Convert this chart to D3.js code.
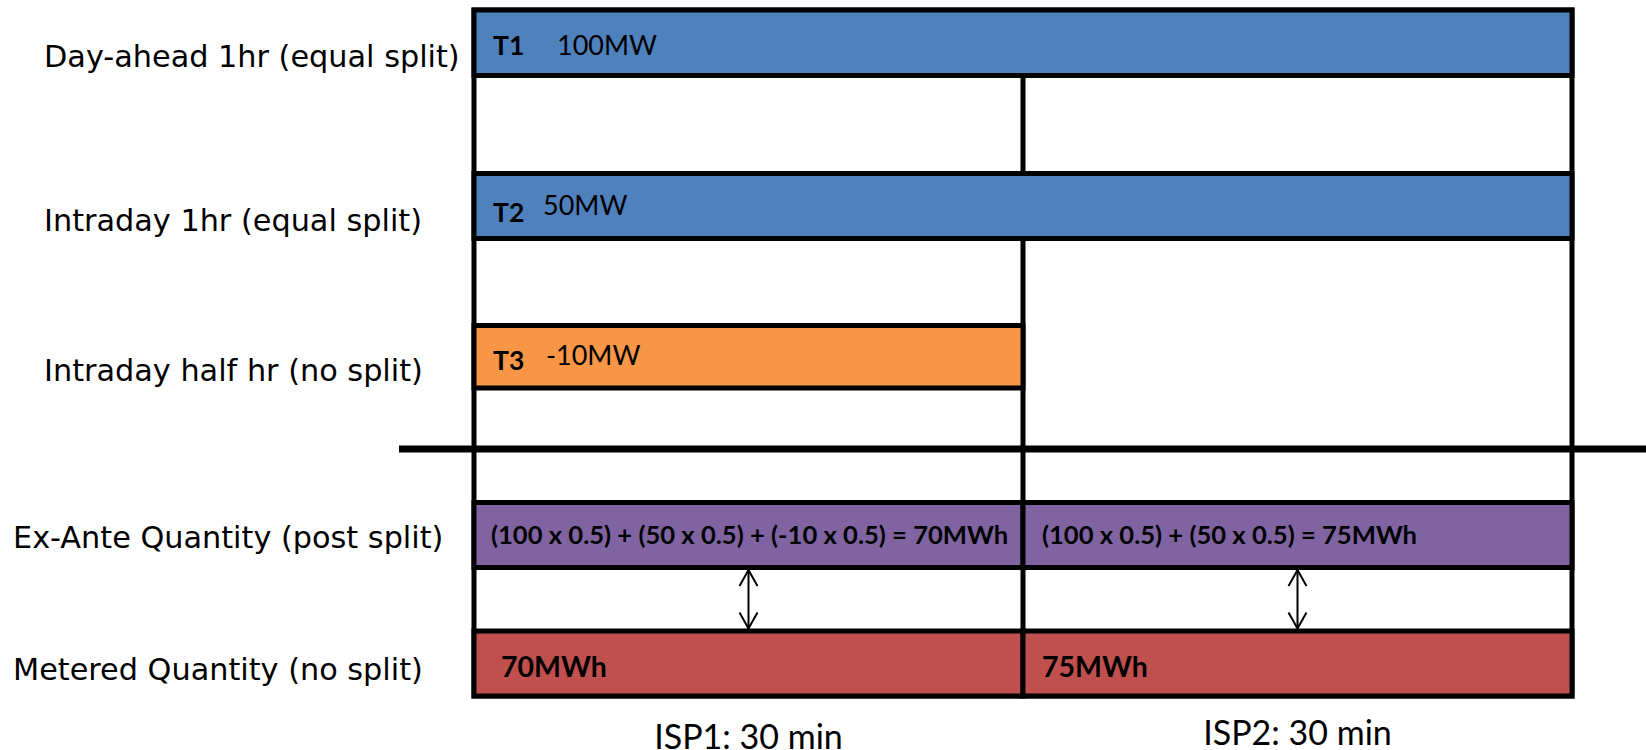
<!DOCTYPE html>
<html>
<head>
<meta charset="utf-8">
<script src="https://cdn.jsdelivr.net/npm/d3@7"></script>
<style>
  html, body { margin: 0; padding: 0; background: #fff; }
  svg { display: block; }
</style>
</head>
<body>
<svg id="chart" width="1646" height="750"></svg>
<script>
// ---------------- DATA ----------------
const rowKeys = ["dayAhead", "intraday1h", "intradayHalf", "exAnte", "metered"];
const rowLabels = [
  "Day-ahead 1hr (equal split)",
  "Intraday 1hr (equal split)",
  "Intraday half hr (no split)",
  "Ex-Ante Quantity (post split)",
  "Metered Quantity (no split)"
];
const ispLabels = ["ISP1: 30 min", "ISP2: 30 min"];
const ispDurationH = 0.5;

const tradeIds = ["T1", "T2", "T3"];
const tradeMW = [100, 50, -10];
const tradeStartIsp = [0, 0, 0];
const tradeEndIsp = [2, 2, 1];   // exclusive
const tradeRows = ["dayAhead", "intraday1h", "intradayHalf"];

const meteredMWh = [70, 75];

// ---------------- LAYOUT / STYLE ----------------
const frameLeft = 474, frameRight = 1572;
const rowTop = [10, 173.5, 325.5, 502.5, 631];
const barH = [65.5, 65, 62.5, 65, 65];
const lineW = 5;
const sepY = 449, sepX0 = 399, sepX1 = 1646, sepW = 7;
const colors = { trade: ["#4F81BD", "#4F81BD", "#F79646"], exAnte: "#8064A2", metered: "#C0504D" };
// text offsets inside trade bars: id label & value label
const tradeTextLayout = [
  { tx: 19, ty: 45, vx: 83, vy: 45 },
  { tx: 19, ty: 48.5, vx: 69, vy: 41.5 },
  { tx: 19, ty: 44.5, vx: 72, vy: 39.5 }
];
const rowLabelLayout = [
  { x: 44, y: 67 }, { x: 44, y: 231 }, { x: 44, y: 381 }, { x: 13, y: 548 }, { x: 13, y: 680 }
];
const ispLabelY = [749, 745];

const labelFont = "'DejaVu Sans', Verdana, sans-serif";
const barFont = "Lato, Carlito, Calibri, sans-serif";

// ---------------- SCALES ----------------
const x = d3.scaleLinear().domain([0, ispLabels.length]).range([frameLeft, frameRight]);
const yTop = d3.scaleOrdinal().domain(rowKeys).range(rowTop);
const yH = d3.scaleOrdinal().domain(rowKeys).range(barH);

const svg = d3.select("#chart");

// ---------------- DERIVED ----------------
const nIsp = ispLabels.length;
const exAnte = d3.range(nIsp).map(i => {
  const parts = [];
  let total = 0;
  tradeIds.forEach((id, t) => {
    if (i >= tradeStartIsp[t] && i < tradeEndIsp[t]) {
      parts.push(`(${tradeMW[t]} x ${ispDurationH})`);
      total += tradeMW[t] * ispDurationH;
    }
  });
  return { isp: i, total, text: parts.join(" + ") + ` = ${total}MWh` };
});

// ---------------- FRAME ----------------
const frameTop = yTop("dayAhead");
const frameBottom = yTop("metered") + yH("metered");
svg.append("rect")
  .attr("x", x(0)).attr("y", frameTop)
  .attr("width", x(nIsp) - x(0)).attr("height", frameBottom - frameTop)
  .attr("fill", "none").attr("stroke", "#000").attr("stroke-width", lineW);

// ISP dividers
svg.selectAll("line.div").data(d3.range(1, nIsp)).join("line")
  .attr("class", "div")
  .attr("x1", d => x(d)).attr("x2", d => x(d))
  .attr("y1", yTop("dayAhead") + yH("dayAhead")).attr("y2", frameBottom)
  .attr("stroke", "#000").attr("stroke-width", lineW);

// separator
svg.append("line")
  .attr("x1", sepX0).attr("x2", sepX1).attr("y1", sepY).attr("y2", sepY)
  .attr("stroke", "#000").attr("stroke-width", sepW);

// ---------------- TRADE BARS ----------------
const trades = tradeIds.map((id, t) => ({ id, t, mw: tradeMW[t], s: tradeStartIsp[t], e: tradeEndIsp[t], row: tradeRows[t] }));
svg.selectAll("rect.trade").data(trades).join("rect")
  .attr("class", "trade")
  .attr("x", d => x(d.s)).attr("y", d => yTop(d.row))
  .attr("width", d => x(d.e) - x(d.s)).attr("height", d => yH(d.row))
  .attr("fill", d => colors.trade[d.t]).attr("stroke", "#000").attr("stroke-width", lineW);

svg.selectAll("text.tid").data(trades).join("text")
  .attr("class", "tid")
  .attr("x", d => x(d.s) + tradeTextLayout[d.t].tx)
  .attr("y", d => yTop(d.row) + tradeTextLayout[d.t].ty)
  .attr("font-family", barFont).attr("font-weight", "bold").attr("font-size", 26.5)
  .attr("fill", "#000").text(d => d.id);

svg.selectAll("text.tval").data(trades).join("text")
  .attr("class", "tval")
  .attr("x", d => x(d.s) + tradeTextLayout[d.t].vx)
  .attr("y", d => yTop(d.row) + tradeTextLayout[d.t].vy)
  .attr("font-family", barFont).attr("font-size", 27)
  .attr("fill", "#000").text(d => `${d.mw}MW`);

// ---------------- EX-ANTE ----------------
svg.selectAll("rect.exante").data(exAnte).join("rect")
  .attr("class", "exante")
  .attr("x", d => x(d.isp)).attr("y", yTop("exAnte"))
  .attr("width", d => x(d.isp + 1) - x(d.isp)).attr("height", yH("exAnte"))
  .attr("fill", colors.exAnte).attr("stroke", "#000").attr("stroke-width", lineW);

svg.selectAll("text.exante").data(exAnte).join("text")
  .attr("class", "exante")
  .attr("x", d => x(d.isp) + (d.isp === 0 ? 17 : 19))
  .attr("y", yTop("exAnte") + 41.5)
  .attr("font-family", barFont).attr("font-weight", "bold").attr("font-size", 25.6)
  .attr("fill", "#000").text(d => d.text);

// ---------------- METERED ----------------
const metered = meteredMWh.map((v, i) => ({ isp: i, v }));
svg.selectAll("rect.metered").data(metered).join("rect")
  .attr("class", "metered")
  .attr("x", d => x(d.isp)).attr("y", yTop("metered"))
  .attr("width", d => x(d.isp + 1) - x(d.isp)).attr("height", yH("metered"))
  .attr("fill", colors.metered).attr("stroke", "#000").attr("stroke-width", lineW);

svg.selectAll("text.metered").data(metered).join("text")
  .attr("class", "metered")
  .attr("x", d => x(d.isp) + (d.isp === 0 ? 27 : 19))
  .attr("y", yTop("metered") + 45.5)
  .attr("font-family", barFont).attr("font-weight", "bold").attr("font-size", 28.5)
  .attr("fill", "#000").text(d => `${d.v}MWh`);

// ---------------- ARROWS ----------------
const arrowTop = yTop("exAnte") + yH("exAnte") + lineW / 2;
const arrowBot = yTop("metered") - lineW / 2;
const ag = svg.selectAll("g.arrow").data(d3.range(nIsp)).join("g").attr("class", "arrow")
  .attr("transform", d => `translate(${(x(d) + x(d + 1)) / 2},0)`);
ag.append("line").attr("x1", 0).attr("x2", 0).attr("y1", arrowTop).attr("y2", arrowBot)
  .attr("stroke", "#000").attr("stroke-width", 2);
ag.append("path").attr("d", `M-9,${arrowTop + 16}L0,${arrowTop}L9,${arrowTop + 16}`)
  .attr("fill", "none").attr("stroke", "#000").attr("stroke-width", 2);
ag.append("path").attr("d", `M-9,${arrowBot - 16}L0,${arrowBot}L9,${arrowBot - 16}`)
  .attr("fill", "none").attr("stroke", "#000").attr("stroke-width", 2);

// ---------------- ROW LABELS ----------------
svg.selectAll("text.rowlabel").data(rowLabels).join("text")
  .attr("class", "rowlabel")
  .attr("x", (d, i) => rowLabelLayout[i].x).attr("y", (d, i) => rowLabelLayout[i].y)
  .attr("font-family", labelFont).attr("font-size", 30.3)
  .attr("fill", "#000").text(d => d);

// ---------------- ISP LABELS ----------------
svg.selectAll("text.isp").data(ispLabels).join("text")
  .attr("class", "isp")
  .attr("x", (d, i) => (x(i) + x(i + 1)) / 2).attr("y", (d, i) => ispLabelY[i])
  .attr("text-anchor", "middle")
  .attr("font-family", barFont).attr("font-size", 34)
  .attr("fill", "#000").text(d => d);
</script>
</body>
</html>
